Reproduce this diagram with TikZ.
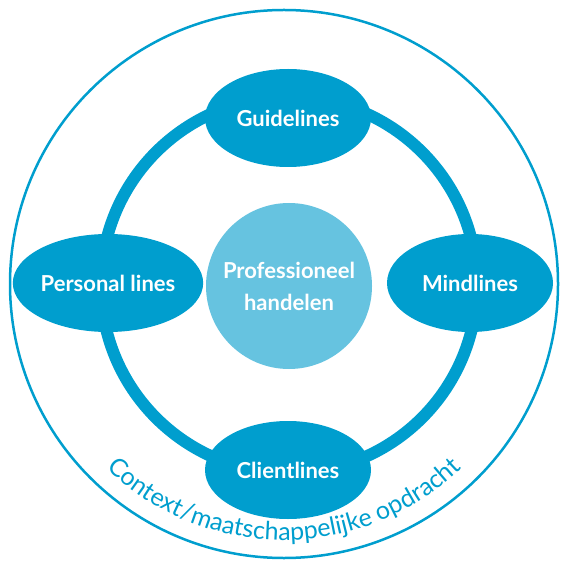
\documentclass[tikz,border=0pt]{standalone}
\usepackage{fontspec}
\setmainfont{Lato}
\usetikzlibrary{positioning}
\usetikzlibrary{shapes.geometric}
\usetikzlibrary{decorations.text}
\definecolor{lineBlue}{HTML}{009ECE}
\definecolor{coreBlue}{HTML}{66C3E0}
\tikzset{
  linesNode/.style={ellipse, fill=lineBlue, text=white, minimum width=166pt, minimum height=98pt, inner sep=0pt, font=\bfseries\fontsize{22}{26}\selectfont},
  coreNode/.style={circle, fill=coreBlue, text=white, minimum size=166pt, inner sep=0pt, align=center, font=\bfseries\fontsize{22}{32}\selectfont}
}

\begin{document}
\begin{tikzpicture}[x=1pt,y=1pt]
  \useasboundingbox (0,0) rectangle (561,560);
  \coordinate (ctx) at (284,276);
  \coordinate (ring) at (289,275);
  % context and the four lines
  \draw [lineBlue, line width=2.5pt] (ctx) circle (274pt);
  \draw [lineBlue, line width=12pt] (ring) circle (188pt);
  \node [coreNode] (core) at (289,274) {Professioneel\\handelen};
  \node [linesNode] (guide) at (288,442) {Guidelines};
  \node [linesNode] (client) at (288,90) {Clientlines};
  \node [linesNode] (personal) at (108,277) {Personal lines};
  \node [linesNode] (mind) at (470,277) {Mindlines};
  \path [decorate, decoration={text along path, text align=center, text color=lineBlue,
    text={|\fontsize{25}{25}\selectfont|Context/maatschappelijke opdracht}}]
    (ctx) ++(222:256pt) arc (222:318:256pt);
\end{tikzpicture}
\end{document}
